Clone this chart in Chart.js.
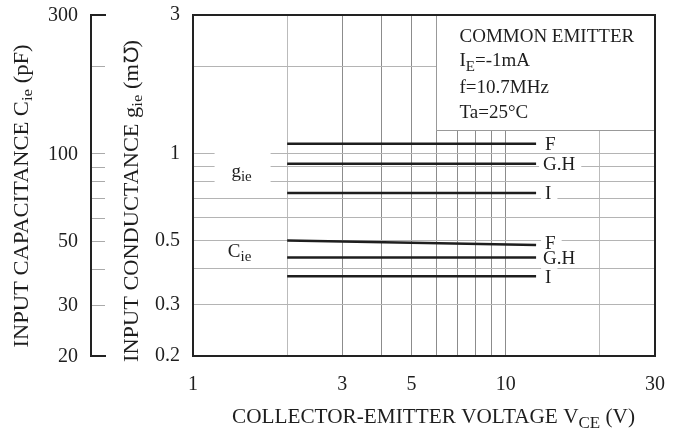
<!DOCTYPE html>
<html>
<head>
<meta charset="utf-8">
<script src="https://cdn.jsdelivr.net/npm/chart.js@4/dist/chart.umd.min.js"></script>
<style>
  html, body { margin: 0; padding: 0; background: #fff; }
  #wrap { width: 686px; height: 440px; }
</style>
</head>
<body>
<div id="wrap"><canvas id="chart" width="686" height="440"></canvas></div>
<script>
// Collector-emitter voltage (V) at the ends of each curve
const vce = [2, 12.5];
// Input conductance g_ie (mS) for ranks F, G.H, I
const gieF  = [1.08, 1.08];
const gieGH = [0.92, 0.92];
const gieI  = [0.73, 0.73];
// Input capacitance C_ie (pF) for ranks F, G.H, I
const cieF  = [50, 48.3];
const cieGH = [43.7, 43.7];
const cieI  = [37.7, 37.7];
const rankNames = ['F', 'G.H', 'I'];

// Axis ticks and labels
const xTicks  = [1, 2, 3, 4, 5, 6, 7, 8, 9, 10, 20, 30];
const xLabels = [1, 3, 5, 10, 30];
const gTicks  = [0.2, 0.3, 0.4, 0.5, 0.6, 0.7, 0.8, 0.9, 1, 2, 3];
const gLabels = [0.2, 0.3, 0.5, 1, 3];
const cTicks  = [20, 30, 40, 50, 60, 70, 80, 90, 100, 200, 300];
const cLabels = [20, 30, 50, 100, 300];

// Measurement conditions (text, subscript)
const conditions = [
  [['COMMON EMITTER', false]],
  [['I', false], ['E', true], ['=-1mA', false]],
  [['f=10.7MHz', false]],
  [['Ta=25°C', false]]
];

const FONT = '"Liberation Serif", "Times New Roman", serif';
const INK = '#1e1e1e';
const has = (list, v) => list.some(t => Math.abs(t - v) < 1e-9);
const pts = (xs, ys) => xs.map((x, i) => ({ x, y: ys[i] }));

function richWidth(ctx, parts, size, subSize) {
  let w = 0;
  parts.forEach(([t, sub]) => {
    ctx.font = `${sub ? subSize : size}px ${FONT}`;
    w += ctx.measureText(t).width;
  });
  return w;
}
// Draws text runs with subscripts; optional fitWidth stretches the run horizontally
function drawRich(ctx, parts, x, y, align, size, subSize, subDy, fitWidth) {
  const w0 = richWidth(ctx, parts, size, subSize);
  const k = fitWidth ? fitWidth / w0 : 1;
  const w = w0 * k;
  const start = align === 'center' ? x - w / 2 : align === 'right' ? x - w : x;
  ctx.save();
  ctx.translate(start, y);
  ctx.scale(k, 1);
  ctx.textAlign = 'left';
  ctx.textBaseline = 'alphabetic';
  let cx = 0;
  parts.forEach(([t, sub]) => {
    ctx.font = `${sub ? subSize : size}px ${FONT}`;
    ctx.fillText(t, cx, sub ? subDy : 0);
    cx += ctx.measureText(t).width;
  });
  ctx.restore();
  return w;
}

const decor = {
  id: 'decor',
  beforeDatasetsDraw(chart) {
    const { ctx, chartArea: a, scales } = chart;
    const sx = scales.x, sg = scales.g, sc = scales.c;
    ctx.save();

    // Conditions box in the upper right corner
    const bl = Math.round(sx.getPixelForValue(6)) + 0.5;
    const bb = Math.round(sg.getPixelForValue(1.2)) + 0.5;
    ctx.fillStyle = '#fff';
    ctx.fillRect(bl, a.top, a.right - bl, bb - a.top);
    ctx.strokeStyle = '#999';
    ctx.lineWidth = 1;
    ctx.beginPath();
    ctx.moveTo(bl, a.top); ctx.lineTo(bl, bb); ctx.lineTo(a.right, bb);
    ctx.stroke();
    ctx.fillStyle = INK;
    const baselines = [42, 66, 93, 118];
    conditions.forEach((parts, i) => {
      drawRich(ctx, parts, bl + 23, baselines[i], 'left', 19, 15, 5);
    });

    // Curve group labels g_ie and C_ie
    const gx = sx.getPixelForValue(1.43);
    const gy = sg.getPixelForValue(0.855);
    ctx.fillStyle = '#fff';
    ctx.fillRect(gx - 27, gy - 21, 56, 33);
    ctx.fillStyle = INK;
    drawRich(ctx, [['g', false], ['ie', true]], gx, gy + 4, 'center', 19, 15, 4);
    const cy = sc.getPixelForValue(45.3);
    drawRich(ctx, [['C', false], ['ie', true]], gx - 2, cy + 4, 'center', 19, 15, 4);

    // Rank labels at the right end of each curve
    const xEnd = sx.getPixelForValue(vce[vce.length - 1]);
    const ends = [
      [sg, gieF], [sg, gieGH], [sg, gieI],
      [sc, cieF], [sc, cieGH], [sc, cieI]
    ];
    ends.forEach(([scale, ys], i) => {
      const name = rankNames[i % 3];
      const y = scale.getPixelForValue(ys[ys.length - 1]) - (i === 3 ? 2 : 0);
      ctx.font = `19px ${FONT}`;
      const w = ctx.measureText(name).width;
      const lx = xEnd + (name === 'G.H' ? 7 : 9);
      ctx.fillStyle = '#fff';
      ctx.fillRect(lx - 4, y - 8, w + 10, 17);
      ctx.fillStyle = INK;
      ctx.textAlign = 'left';
      ctx.textBaseline = 'alphabetic';
      ctx.fillText(name, lx, y + 6.5);
    });

    // Plot frame
    ctx.strokeStyle = '#222';
    ctx.lineWidth = 2;
    ctx.strokeRect(a.left, a.top, a.right - a.left, a.bottom - a.top);

    // Capacitance axis, drawn from the hidden c scale
    const ax = 91;
    const yTop = sc.getPixelForValue(300), yBot = sc.getPixelForValue(20);
    ctx.strokeStyle = '#aaa';
    ctx.lineWidth = 1;
    cTicks.forEach(v => {
      if (v === 20 || v === 300) return;
      const y = Math.round(sc.getPixelForValue(v)) + 0.5;
      ctx.beginPath(); ctx.moveTo(ax, y); ctx.lineTo(ax + 14, y); ctx.stroke();
    });
    ctx.strokeStyle = '#222';
    ctx.lineWidth = 2;
    ctx.beginPath();
    ctx.moveTo(ax + 15, yTop); ctx.lineTo(ax, yTop); ctx.lineTo(ax, yBot); ctx.lineTo(ax + 15, yBot);
    ctx.stroke();
    ctx.fillStyle = INK;
    ctx.font = `20px ${FONT}`;
    ctx.textAlign = 'right';
    ctx.textBaseline = 'middle';
    cLabels.forEach(v => ctx.fillText(String(v), 78, sc.getPixelForValue(v) + 1));

    // Axis titles
    ctx.save();
    ctx.translate(28, 196);
    ctx.rotate(-Math.PI / 2);
    drawRich(ctx, [['INPUT CAPACITANCE C', false], ['ie', true], [' (pF)', false]], 0, 0, 'center', 20, 15, 4, 303);
    ctx.restore();
    ctx.save();
    ctx.translate(138, 201);
    ctx.rotate(-Math.PI / 2);
    drawRich(ctx, [['INPUT CONDUCTANCE g', false], ['ie', true], [' (m\u2127)', false]], 0, 0, 'center', 20, 15, 4, 322);
    ctx.restore();
    drawRich(ctx, [['COLLECTOR-EMITTER VOLTAGE V', false], ['CE', true], [' (V)', false]],
      433.5, 423, 'center', 20, 16, 5, 403);

    ctx.restore();
  }
};

const lineStyle = { borderColor: INK, borderWidth: 2.5, pointRadius: 0, showLine: true, fill: false };

new Chart(document.getElementById('chart'), {
  type: 'scatter',
  data: {
    datasets: [
      { label: 'g_ie F',   data: pts(vce, gieF),  yAxisID: 'g', ...lineStyle },
      { label: 'g_ie G.H', data: pts(vce, gieGH), yAxisID: 'g', ...lineStyle },
      { label: 'g_ie I',   data: pts(vce, gieI),  yAxisID: 'g', ...lineStyle },
      { label: 'C_ie F',   data: pts(vce, cieF),  yAxisID: 'c', ...lineStyle },
      { label: 'C_ie G.H', data: pts(vce, cieGH), yAxisID: 'c', ...lineStyle },
      { label: 'C_ie I',   data: pts(vce, cieI),  yAxisID: 'c', ...lineStyle }
    ]
  },
  options: {
    responsive: false,
    animation: false,
    devicePixelRatio: 1,
    layout: { padding: { left: 0, top: 15, right: 31, bottom: 0 } },
    plugins: { legend: { display: false }, tooltip: { enabled: false } },
    scales: {
      x: {
        type: 'logarithmic',
        min: 1, max: 30,
        afterBuildTicks: s => { s.ticks = xTicks.map(v => ({ value: v })); },
        afterFit: s => { s.height = 84; s.paddingLeft = 0; s.paddingRight = 0; },
        border: { display: false },
        grid: {
          drawTicks: false,
          lineWidth: 1,
          color: c => (c.tick && (c.tick.value === 2 || c.tick.value === 20)) ? '#bbb' : '#8c8c8c'
        },
        ticks: {
          autoSkip: false, maxRotation: 0, padding: 17, color: INK,
          font: { family: FONT, size: 20 },
          callback: v => has(xLabels, v) ? String(v) : ''
        }
      },
      g: {
        type: 'logarithmic',
        position: 'left',
        min: 0.2, max: 3,
        afterBuildTicks: s => { s.ticks = gTicks.map(v => ({ value: v })); },
        afterFit: s => { s.width = 193; s.paddingTop = 0; s.paddingBottom = 0; },
        border: { display: false },
        grid: { drawTicks: false, lineWidth: 1, color: '#b4b4b4' },
        ticks: {
          autoSkip: false, padding: 13, color: INK,
          font: { family: FONT, size: 20 },
          callback: v => has(gLabels, v) ? String(v) : ''
        }
      },
      c: {
        type: 'logarithmic',
        position: 'left',
        display: false,
        min: 20, max: 300
      }
    }
  },
  plugins: [decor]
});
</script>
</body>
</html>
